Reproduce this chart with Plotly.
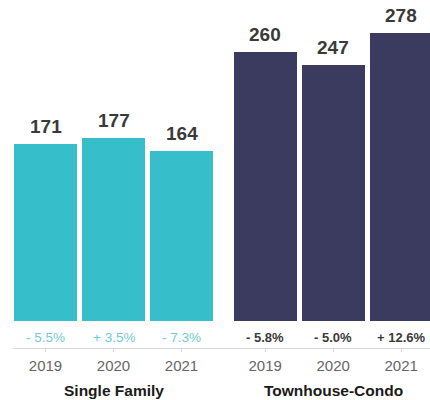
import plotly.graph_objects as go

# Median days-on-market style comparison, two property types over three years
years = ["2019", "2020", "2021"]
single_family = [171, 177, 164]
townhouse_condo = [260, 247, 278]
sf_change = ["- 5.5%", "+ 3.5%", "- 7.3%"]
tc_change = ["- 5.8%", "- 5.0%", "+ 12.6%"]
groups = ["Single Family", "Townhouse-Condo"]

TEAL = "#36BFCB"
NAVY = "#3A3B5E"
FONT = "Liberation Sans, Arial, sans-serif"

# slot positions along the x axis (second group offset to leave a gap)
sf_x = [0, 1, 2]
tc_x = [3.23, 4.23, 5.23]
bar_w = 0.926

fig = go.Figure()
fig.add_trace(go.Bar(x=sf_x, y=single_family, width=bar_w,
                     marker=dict(color=TEAL, line=dict(width=0)),
                     hoverinfo="skip"))
fig.add_trace(go.Bar(x=tc_x, y=townhouse_condo, width=bar_w,
                     marker=dict(color=NAVY, line=dict(width=0)),
                     hoverinfo="skip"))

annotations = []
# value labels above each bar
for xs, vals in ((sf_x, single_family), (tc_x, townhouse_condo)):
    for x, v in zip(xs, vals):
        annotations.append(dict(x=x, y=v, xref="x", yref="y", text="<b>%d</b>" % v,
                                showarrow=False, yanchor="bottom", yshift=5,
                                font=dict(family=FONT, size=19, color="#3a3a3a"),
                                ))
# percent change labels under the bars
for x, t in zip(sf_x, sf_change):
    annotations.append(dict(x=x, y=0, xref="x", yref="y", text=t,
                            showarrow=False, yanchor="middle", yshift=-16,
                            font=dict(family=FONT, size=13.5, color="#6FCBD3")))
for x, t in zip(tc_x, tc_change):
    annotations.append(dict(x=x, y=0, xref="x", yref="y", text="<b>" + t + "</b>",
                            showarrow=False, yanchor="middle", yshift=-16,
                            font=dict(family=FONT, size=13, color="#3a3a3a")))
# group titles
for x, g in zip([sf_x[1], tc_x[1]], groups):
    annotations.append(dict(x=x, y=0, xref="x", yref="paper", text="<b>" + g + "</b>",
                            showarrow=False, yanchor="middle", yshift=-42,
                            font=dict(family=FONT, size=15.5, color="#1a1a1a")))

fig.update_layout(
    width=430, height=400,
    margin=dict(l=13, r=0, t=10, b=52),
    paper_bgcolor="white", plot_bgcolor="white",
    showlegend=False,
    annotations=annotations,
    xaxis=dict(range=[-0.478, 5.654], tickvals=sf_x + tc_x, ticktext=years + years,
               showline=True, linecolor="#d8d8d8", linewidth=1,
               ticks="outside", ticklen=3, tickcolor="#d8d8d8",
               ticklabelstandoff=1,
               showgrid=False, zeroline=False, fixedrange=True,
               tickfont=dict(family=FONT, size=15, color="#666666")),
    yaxis=dict(range=[-26.06, 300.2], visible=False, showgrid=False,
               zeroline=False, fixedrange=True),
    bargap=0,
)

fig.write_html("out.html")
